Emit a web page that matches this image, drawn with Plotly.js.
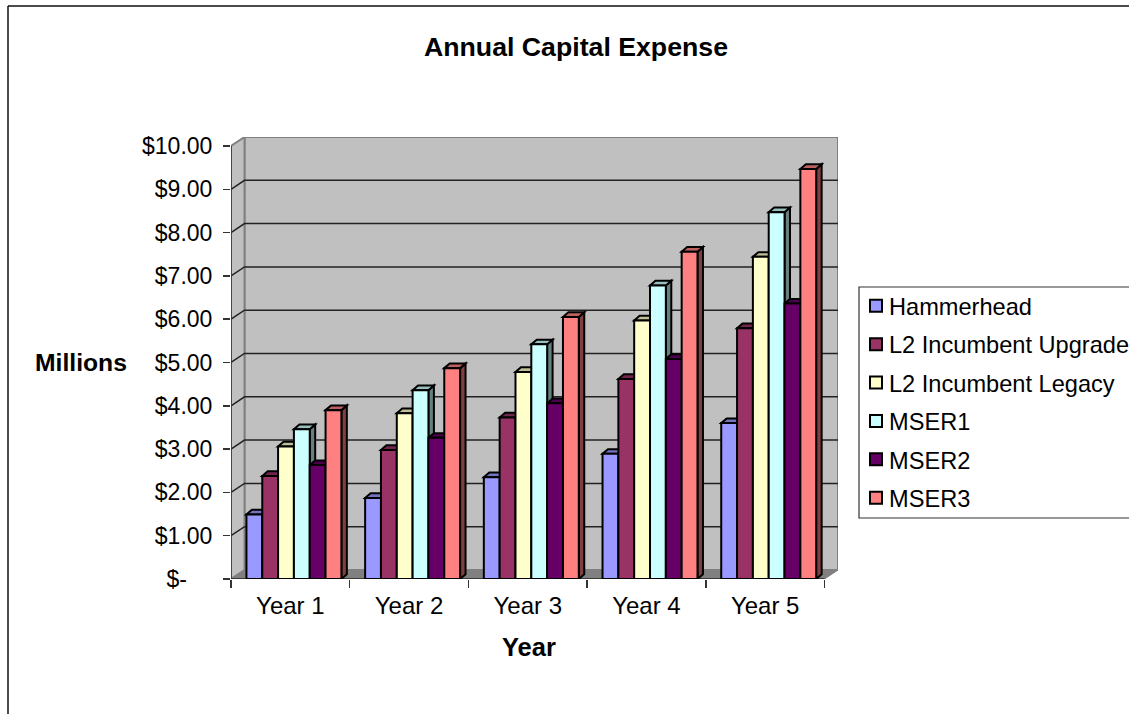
<!DOCTYPE html>
<html>
<head>
<meta charset="utf-8">
<script src="https://cdn.plot.ly/plotly-3.0.1.min.js"></script>
<style>
html,body{margin:0;padding:0;background:#fff;overflow:hidden}
/* Pull the legend swatches closer to their labels */
.legend .legendpoints{transform:translateX(7px)}
</style>
</head>
<body>
<div id="chart" style="width:1129px;height:714px"></div>
<script>
// Annual capital expense per design option, in millions of dollars
const years = ['Year 1', 'Year 2', 'Year 3', 'Year 4', 'Year 5'];
const hammerhead = [1.49, 1.87, 2.35, 2.89, 3.60];
const l2Upgrade = [2.38, 2.98, 3.73, 4.62, 5.79];
const l2Legacy = [3.06, 3.83, 4.78, 5.97, 7.44];
const mser1 = [3.46, 4.36, 5.42, 6.78, 8.47];
const mser2 = [2.63, 3.26, 4.06, 5.08, 6.36];
const mser3 = [3.90, 4.87, 6.05, 7.56, 9.47];
const yTickValues = [0, 1, 2, 3, 4, 5, 6, 7, 8, 9, 10];
const yTickLabels = ['$-\u00a0\u00a0\u00a0\u00a0', '$1.00', '$2.00', '$3.00', '$4.00', '$5.00', '$6.00', '$7.00', '$8.00', '$9.00', '$10.00'];

const seriesList = [
  {name: 'Hammerhead', values: hammerhead, front: '#9999FF', top: '#7373BF', side: '#4D4D80'},
  {name: 'L2 Incumbent Upgrade', values: l2Upgrade, front: '#993366', top: '#73264D', side: '#4D1A33'},
  {name: 'L2 Incumbent Legacy', values: l2Legacy, front: '#FFFFCC', top: '#BFBF99', side: '#808066'},
  {name: 'MSER1', values: mser1, front: '#CCFFFF', top: '#99BFBF', side: '#668080'},
  {name: 'MSER2', values: mser2, front: '#660066', top: '#4D004D', side: '#330033'},
  {name: 'MSER3', values: mser3, front: '#FF8080', top: '#BF6060', side: '#804040'}
];

// Pseudo-3D depth of the walls and of the bars, in axis units
const wallDx = 0.1137, wallDy = 0.208;
const barDx = 0.046, barDy = 0.108;
const xMax = 5 + wallDx, yMax = 10 + wallDy;
const groupOffset = 0.53, groupWidth = 0.8;

const poly = pts => 'M' + pts.map(p => p[0] + ',' + p[1]).join('L') + 'Z';
const dataShape = (path, fill, color, width, layer) => ({
  type: 'path', xref: 'x', yref: 'y', path, fillcolor: fill || 'rgba(0,0,0,0)',
  line: {color, width}, layer: layer || 'below'
});

const shapes = [];
// Back wall, side wall and floor
shapes.push(dataShape(poly([[wallDx, wallDy], [xMax, wallDy], [xMax, yMax], [wallDx, yMax]]), '#C0C0C0', '#808080', 2));
shapes.push(dataShape(poly([[0, 0], [wallDx, wallDy], [wallDx, yMax], [0, 10]]), '#C0C0C0', '#808080', 2));
// Gridlines wrap from the side wall across the back wall
yTickValues.slice(1, -1).forEach(v => {
  shapes.push(dataShape(`M0,${v}L${wallDx},${v + wallDy}L${xMax},${v + wallDy}`, null, '#222222', 1.5));
});
shapes.push(dataShape(poly([[0, 0], [wallDx, wallDy], [xMax, wallDy], [5, 0]]), '#808080', '#808080', 1));
// Axis lines in the front plane
shapes.push(dataShape('M0,0L0,10', null, '#333333', 1.5));
shapes.push(dataShape('M0,0L5,0', null, '#222222', 1.5));

// Side faces go first so that top faces and the bar fronts sit over them
const faces = {side: [], top: []};
seriesList.forEach((s, j) => {
  s.values.forEach((v, i) => {
    const left = i + groupOffset - groupWidth / 2 + j * groupWidth / seriesList.length;
    const right = left + groupWidth / seriesList.length;
    faces.side.push(dataShape(poly([[right, 0], [right + barDx, barDy], [right + barDx, v + barDy], [right, v]]), s.side, '#000000', 2));
    faces.top.push(dataShape(poly([[left, v], [left + barDx, v + barDy], [right + barDx, v + barDy], [right, v]]), s.top, '#000000', 2));
  });
});
shapes.push(...faces.side, ...faces.top);

// Outer frame of the chart area
shapes.push({type: 'line', xref: 'paper', yref: 'paper', x0: -223 / 607, x1: 900 / 607 + 0.1, y0: 131 / 442 + 1, y1: 131 / 442 + 1, line: {color: '#111111', width: 1.5}, layer: 'above'});
shapes.push({type: 'line', xref: 'paper', yref: 'paper', x0: -223 / 607, x1: -223 / 607, y0: 131 / 442 + 1, y1: -140 / 442, line: {color: '#111111', width: 1.5}, layer: 'above'});

const traces = seriesList.map(s => ({
  type: 'bar',
  name: s.name,
  legendgroup: s.name,
  x: years.map((_, i) => i + groupOffset),
  y: s.values,
  marker: {color: s.front, line: {color: '#000000', width: 2}}
}));

const font = 'Liberation Sans, Arial, sans-serif';
const layout = {
  width: 1129,
  height: 714,
  margin: {l: 231, t: 137, r: 291, b: 135, pad: 0, autoexpand: false},
  paper_bgcolor: '#FFFFFF',
  plot_bgcolor: 'rgba(0,0,0,0)',
  barmode: 'group',
  bargap: 1 - groupWidth,
  bargroupgap: 0,
  showlegend: true,
  font: {family: font, color: '#000000', size: 23},
  title: {text: '<b>Annual Capital Expense</b>', x: 576 / 1129, xanchor: 'center', y: 1 - 47 / 714, yanchor: 'middle', font: {size: 26.7, family: font}},
  xaxis: {
    range: [0, xMax], showgrid: false, zeroline: false, showline: false,
    tickmode: 'array', tickvals: years.map((_, i) => i + 0.5), ticktext: years,
    ticks: '', ticklabelstandoff: 10,
    tickfont: {size: 24},
    minor: {tickmode: 'linear', tick0: 0, dtick: 1, ticks: 'outside', ticklen: 8, tickwidth: 1.5, tickcolor: '#333333', showgrid: false}
  },
  yaxis: {
    range: [0, yMax], showgrid: false, zeroline: false, showline: false,
    tickmode: 'array', tickvals: yTickValues, ticktext: yTickLabels,
    ticks: 'outside', ticklen: 7, tickwidth: 1.5, tickcolor: '#333333',
    ticklabelstandoff: 6, tickfont: {size: 23}
  },
  legend: {
    x: (849 - 231) / 607, y: 1 - (284 - 137) / 442, xanchor: 'left', yanchor: 'top',
    bgcolor: 'rgba(0,0,0,0)', borderwidth: 0, traceorder: 'grouped',
    tracegroupgap: 4.7, font: {size: 23.6, family: font}
  },
  annotations: [{
    text: '<b>Millions</b>', xref: 'paper', yref: 'paper', showarrow: false,
    x: -198 / 607, xanchor: 'left', y: 1 - (362 - 137) / 442, yanchor: 'middle',
    font: {size: 24.7, family: font}
  }, {
    text: '<b>Year</b>', xref: 'x', yref: 'paper', showarrow: false,
    x: 2.51, xanchor: 'center', y: 1 - (647 - 137) / 442, yanchor: 'middle',
    font: {size: 25.5, family: font}
  }]
};

// Legend frame runs past the right edge of the page
shapes.push({type: 'rect', xref: 'paper', yref: 'paper', x0: (859 - 231) / 607, x1: (1160 - 231) / 607, y0: 1 - (518 - 137) / 442, y1: 1 - (287 - 137) / 442, line: {color: '#333333', width: 1.2}, fillcolor: '#FFFFFF', layer: 'below'});
layout.shapes = shapes;

Plotly.newPlot('chart', traces, layout, {displayModeBar: false, staticPlot: true});
</script>
</body>
</html>
